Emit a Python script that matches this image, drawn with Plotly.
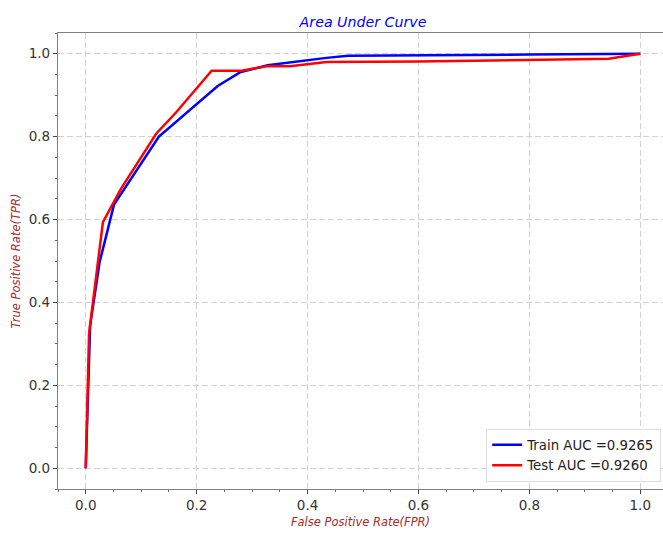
import plotly.graph_objects as go

train_fpr = [0.0, 0.004, 0.008, 0.025, 0.051, 0.132, 0.238, 0.278, 0.328, 0.434, 0.473, 0.8, 1.0]
train_tpr = [0.0, 0.20, 0.345, 0.497, 0.636, 0.800, 0.922, 0.955, 0.972, 0.990, 0.995, 0.998, 1.0]
test_fpr = [0.0, 0.003, 0.006, 0.031, 0.064, 0.127, 0.164, 0.227, 0.281, 0.326, 0.368, 0.434, 0.6, 0.943, 1.0]
test_tpr = [0.0, 0.15, 0.325, 0.594, 0.675, 0.807, 0.860, 0.959, 0.959, 0.970, 0.970, 0.980, 0.981, 0.988, 1.0]
train_label = "Train AUC =0.9265"
test_label = "Test AUC =0.9260"
x_ticks = [0.0, 0.2, 0.4, 0.6, 0.8, 1.0]
y_ticks = [0.0, 0.2, 0.4, 0.6, 0.8, 1.0]

FONT = "DejaVu Sans"

fig = go.Figure()
fig.add_trace(go.Scatter(x=train_fpr, y=train_tpr, mode="lines", name=train_label,
                         line=dict(color="#0000ff", width=2.5)))
fig.add_trace(go.Scatter(x=test_fpr, y=test_tpr, mode="lines", name=test_label,
                         line=dict(color="#ff0000", width=2.5)))

axis_common = dict(
    showline=True, linecolor="#808080", linewidth=1.3,
    ticks="outside", ticklen=4, tickcolor="#444", tickwidth=1,
    showgrid=True, gridcolor="#d2d2d2", gridwidth=1.3, griddash="6px,3px",
    zeroline=False,
    tickfont=dict(family=FONT, size=13.5, color="#333"),
    minor=dict(ticks="outside", ticklen=2, dtick=0.05, tickcolor="#666", showgrid=False),
)

fig.update_layout(
    width=663, height=534,
    margin=dict(l=58, r=0, t=33, b=45),
    paper_bgcolor="white", plot_bgcolor="white",
    font=dict(family=FONT),
    title=dict(text="<i>Area Under Curve</i>", x=(58 + 668) / 2 / 663, xanchor="center",
               y=1 - 22 / 534, yanchor="middle",
               font=dict(family=FONT, size=14.2, color="#0000ff")),
    xaxis=dict(range=[-0.05, 1.041], tickvals=x_ticks, tickformat=".1f", mirror=True,
               title=dict(text="<i>False Positive Rate(FPR)</i>", standoff=5,
                          font=dict(family=FONT, size=11.5, color="#a52a2a")),
               **axis_common),
    yaxis=dict(range=[-0.05, 1.05], tickvals=y_ticks, tickformat=".1f", mirror=False,
               title=dict(text="<i>True Positive Rate(TPR)</i>", standoff=5,
                          font=dict(family=FONT, size=11.5, color="#a52a2a")),
               **axis_common),
    legend=dict(x=0.997, y=0.016, xanchor="right", yanchor="bottom",
                bgcolor="rgba(255,255,255,0.85)", bordercolor="#dddddd", borderwidth=1,
                font=dict(family=FONT, size=13.3, color="#222"),
                tracegroupgap=0, itemwidth=30),
    showlegend=True,
)

fig.write_html("out.html")
